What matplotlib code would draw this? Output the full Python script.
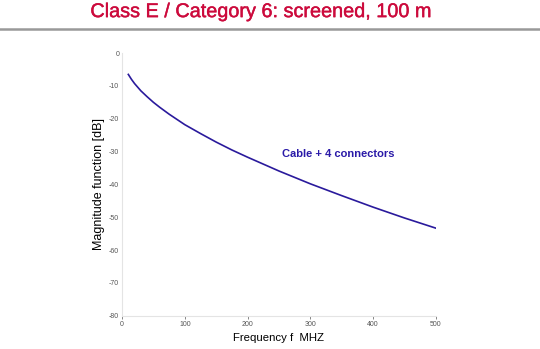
import numpy as np
import matplotlib
matplotlib.use("Agg")
from matplotlib import pyplot as plt
import matplotlib.patheffects as pe

# frequency [MHz] and magnitude [dB]
freq = [10, 15, 20, 25, 30, 40, 50, 60, 75, 100, 125, 150, 175, 200, 250, 300, 350, 400, 450, 500]
magnitude = [-6.5, -8.0, -9.3, -10.4, -11.5, -13.3, -15.0, -16.5, -18.6, -21.8, -24.5, -27.1,
             -29.5, -31.7, -35.9, -39.8, -43.4, -46.9, -50.2, -53.3]

xticks = [0, 100, 200, 300, 400, 500]
yticks = [0, -10, -20, -30, -40, -50, -60, -70, -80]

plt.rcParams['font.family'] = ['Liberation Sans', 'DejaVu Sans']
plt.rcParams['axes.unicode_minus'] = False

fig = plt.figure(figsize=(5.4, 3.49), dpi=100)
title_color = "#cc0a3c"
fig.text(0.484, 0.951, "Class E / Category 6: screened, 100 m", ha="center", va="baseline",
         color=title_color, fontsize=14.3,
         path_effects=[pe.withStroke(linewidth=0.3, foreground=title_color)])
fig.add_artist(plt.Line2D([0, 1], [0.917, 0.917], color="#999999", lw=1.8, transform=fig.transFigure))

ax = fig.add_axes([0.226, 0.095, 0.581, 0.753])
ax.plot(freq, magnitude, color="#2a1a9c", lw=1.2)
ax.text(345, -30.8, "Cable + 4 connectors", color="#2a1aa8", fontsize=8, fontweight="bold",
        ha="center", va="center")

ax.set_xlim(0, 500)
ax.set_ylim(-80, 0)
ax.set_xticks(xticks)
ax.set_yticks(yticks)
ax.tick_params(labelsize=5, colors="#555555", width=0.5)
ax.tick_params(axis="x", length=2, pad=2)
ax.tick_params(axis="y", length=0, pad=2)
for s in ["top", "right"]:
    ax.spines[s].set_visible(False)
for s in ["left", "bottom"]:
    ax.spines[s].set_color("#e4e4e4")
    ax.spines[s].set_linewidth(0.8)
ax.set_xlabel("Frequency f  MHZ", fontsize=8.2, labelpad=3)
ax.set_ylabel("Magnitude function [dB]", fontsize=9, labelpad=3)

plt.savefig("out.png", dpi=100)
